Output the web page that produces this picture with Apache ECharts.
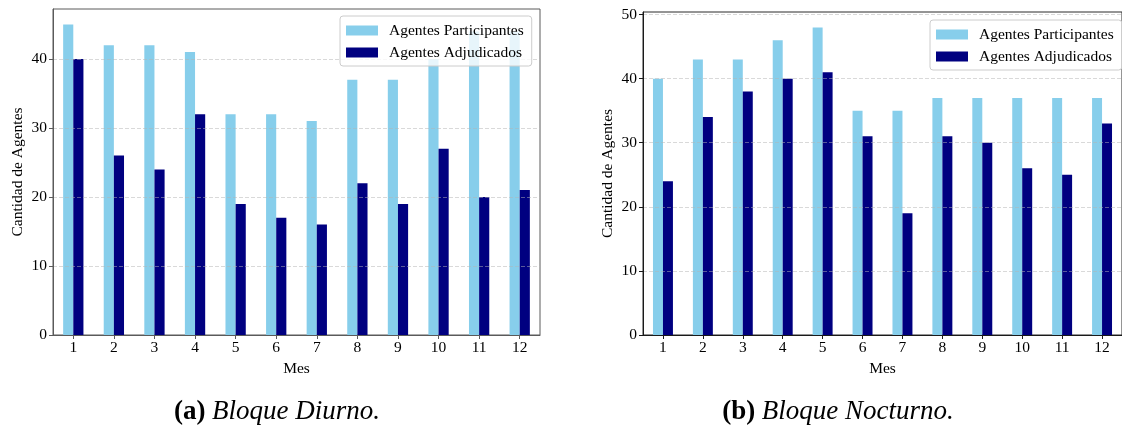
<!DOCTYPE html>
<html>
<head>
<meta charset="utf-8">
<script src="https://cdn.jsdelivr.net/npm/echarts@6/dist/echarts.min.js"></script>
<style>
html,body{margin:0;padding:0;background:#fff;}
#c{width:1122px;height:430px;}
</style>
</head>
<body>
<div id="c"></div>
<script>
// ---- data ----
const months = ['1','2','3','4','5','6','7','8','9','10','11','12'];
const diurnoParticipantes = [45, 42, 42, 41, 32, 32, 31, 37, 37, 40, 44, 44];
const diurnoAdjudicados   = [40, 26, 24, 32, 19, 17, 16, 22, 19, 27, 20, 21];
const nocturnoParticipantes = [40, 43, 43, 46, 48, 35, 35, 37, 37, 37, 37, 37];
const nocturnoAdjudicados   = [24, 34, 38, 40, 41, 31, 19, 31, 30, 26, 25, 33];
const seriesNames = ['Agentes Participantes', 'Agentes Adjudicados'];
const captionA = ['(a)', 'Bloque Diurno.'];
const captionB = ['(b)', 'Bloque Nocturno.'];
const yName = 'Cantidad de Agentes';
const xName = 'Mes';

const FONT = '"Liberation Serif", "Times New Roman", serif';
const FS = 15.5;
const LIGHT = '#87CEEB';
const DARK = '#000080';

const chart = echarts.init(document.getElementById('c'), null, {renderer: 'canvas'});

function xAxis(gi, color) {
  return {
    type: 'category', gridIndex: gi, data: months,
    boundaryGap: true, z: 8,
    name: xName, nameLocation: 'middle', nameGap: 25,
    nameTextStyle: {fontFamily: FONT, fontSize: FS, color: '#000'},
    axisLine: {show: true, lineStyle: {color: color, width: 1}},
    axisTick: {show: true, alignWithLabel: true, length: 4, lineStyle: {color: color}},
    axisLabel: {fontFamily: FONT, fontSize: FS, color: '#000', margin: 5},
    splitLine: {show: false}
  };
}
function yAxis(gi, max, color) {
  return {
    type: 'value', gridIndex: gi, min: 0, max: max, interval: 10,
    z: 5,
    name: yName, nameLocation: 'middle', nameGap: 27, nameRotate: 90,
    nameTextStyle: {fontFamily: FONT, fontSize: FS, color: '#000'},
    axisLine: {show: true, lineStyle: {color: color, width: 1}},
    axisTick: {show: true, length: 4, lineStyle: {color: color}},
    axisLabel: {fontFamily: FONT, fontSize: FS, color: '#000', margin: 6, showMaxLabel: false},
    splitLine: {show: true, showMinLine: false, showMaxLine: false,
      lineStyle: {color: 'rgba(180,180,180,0.5)', type: [4, 2], width: 1}}
  };
}
function legend(left, top) {
  return {
    show: true, orient: 'vertical', left: left, top: top,
    data: seriesNames,
    itemWidth: 32, itemHeight: 10, itemGap: 5,
    icon: 'rect',
    backgroundColor: 'rgba(255,255,255,0.8)',
    borderColor: '#cccccc', borderWidth: 1, borderRadius: 3,
    padding: [6, 8, 5, 6],
    textStyle: {fontFamily: FONT, fontSize: FS, color: '#000', lineHeight: 17, padding: [0, 0, 0, 6]},
    z: 20
  };
}

const option = {
  animation: false,
  backgroundColor: '#fff',
  grid: [
    {left: 53, top: 9, width: 487, height: 326, show: true, borderColor: '#5a5a5a', borderWidth: 1, backgroundColor: 'transparent'},
    {left: 643, top: 12, width: 487, height: 323, show: true, borderColor: '#2a2a2a', borderWidth: 1, backgroundColor: 'transparent'}
  ],
  xAxis: [xAxis(0, '#5a5a5a'), xAxis(1, '#1a1a1a')],
  yAxis: [yAxis(0, 47.25, '#5a5a5a'), yAxis(1, 50.4, '#1a1a1a')],
  legend: [legend(340, 16), legend(930, 20)],
  series: [
    {name: seriesNames[0], type: 'bar', xAxisIndex: 0, yAxisIndex: 0, data: diurnoParticipantes,
     itemStyle: {color: LIGHT}, barWidth: '25%', barGap: '0%'},
    {name: seriesNames[1], type: 'bar', xAxisIndex: 0, yAxisIndex: 0, data: diurnoAdjudicados,
     itemStyle: {color: DARK}, barWidth: '25%', barGap: '0%'},
    {name: seriesNames[0], type: 'bar', xAxisIndex: 1, yAxisIndex: 1, data: nocturnoParticipantes,
     itemStyle: {color: LIGHT}, barWidth: '25%', barGap: '0%'},
    {name: seriesNames[1], type: 'bar', xAxisIndex: 1, yAxisIndex: 1, data: nocturnoAdjudicados,
     itemStyle: {color: DARK}, barWidth: '25%', barGap: '0%'}
  ],
  graphic: [
    {type: 'text', x: 277, y: 412, style: {
      text: '{b|' + captionA[0] + '}  {i|' + captionA[1] + '}',
      align: 'center', verticalAlign: 'middle',
      rich: {b: {fontFamily: FONT, fontWeight: 'bold', fontSize: 27, fill: '#000'},
             i: {fontFamily: FONT, fontStyle: 'italic', fontSize: 27, fill: '#000'}}
    }},
    {type: 'text', x: 838, y: 412, style: {
      text: '{b|' + captionB[0] + '}  {i|' + captionB[1] + '}',
      align: 'center', verticalAlign: 'middle',
      rich: {b: {fontFamily: FONT, fontWeight: 'bold', fontSize: 27, fill: '#000'},
             i: {fontFamily: FONT, fontStyle: 'italic', fontSize: 27, fill: '#000'}}
    }}
  ]
};
chart.setOption(option);
</script>
</body>
</html>
